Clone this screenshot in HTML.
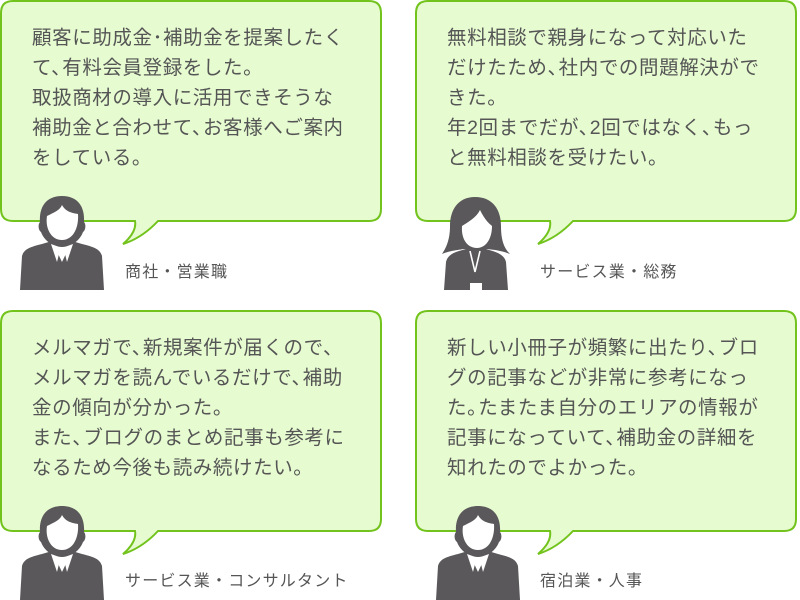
<!DOCTYPE html>
<html><head><meta charset="utf-8"><style>
body{margin:0;width:800px;height:600px;background:#fff;overflow:hidden;position:relative;font-family:"Liberation Sans","Noto Sans CJK JP",sans-serif;}
svg{position:absolute;left:0;top:0}
.t{position:absolute;font-size:19.5px;line-height:30px;color:#555;white-space:nowrap;letter-spacing:0.6px}
.t i{font-style:normal;margin-right:-9px}
.l{position:absolute;font-size:16px;color:#555;white-space:nowrap;letter-spacing:1.2px}
</style></head><body>
<svg width="800" height="600" viewBox="0 0 800 600">
<defs>
<g id="bub">
<path d="M13,1 H369 Q381,1 381,13 V209 Q381,221 369,221 H158 Q142,238 123,244 Q137,232 135,221 H13 Q1,221 1,209 V13 Q1,1 13,1 Z" fill="#e6fbd0" stroke="#72c31c" stroke-width="2"/>
</g>
<g id="man" fill="#5a585a">
<path d="M62,196 C46,196 39,207 40,222 C38,224 38,230 41,232 C44,240 52,247 62,247 C72,247 80,240 83,232 C86,230 86,224 84,222 C85,207 78,196 62,196 Z"/>
<path d="M20,290 L22,256 C24,249 30,247 42,244 L52,241 L62,262 L72,241 L82,244 C94,247 100,249 102,256 L104,290 Z"/>
<path d="M47,216 C55,212 60,210 62,205 C66,212 72,213 78,214 C79,228 73,240 62,240 C51,240 45,228 47,216Z" fill="#fff"/>
<path d="M51,244 L57,262 L60,250 L62,252 L64,250 L67,262 L73,244 L62,248Z" fill="#fff"/>
</g>
<g id="woman" fill="#5a585a">
<path d="M475,197 C458,197 450,210 450,226 C450,240 446,248 442,254 C452,250 460,250 463,249 L488,249 C493,250 500,250 510,254 C504,248 501,240 501,226 C501,210 493,197 475,197Z"/>
<path d="M444,290 L446,262 C448,254 455,252 466,249 L472,247 L480,247 L486,249 C496,252 504,254 506,262 L508,290 Z"/>
<path d="M462,226 C468,222 476,218 480,210 C486,222 490,224 492,226 C492,240 485,248 477,248 C468,248 461,240 462,226Z" fill="#fff"/>
<path d="M470,251 L475,272 L480,251" stroke="#fff" stroke-width="1.6" fill="none"/>
<rect x="470" y="283" width="12" height="8" fill="#fff"/>
</g>
</defs>
<use href="#bub"/>
<use href="#bub" x="415"/>
<use href="#bub" y="310"/>
<use href="#bub" x="415" y="310"/>
<use href="#man"/>
<use href="#woman"/>
<use href="#man" y="310"/>
<use href="#man" x="416" y="310"/>
</svg>
<div class="t" style="left:32px;top:23px">顧客に助成金･補助金を提案したく<br>て<i>、</i>有料会員登録をした。<br>取扱商材の導入に活用できそうな<br>補助金と合わせて<i>、</i>お客様へご案内<br>をしている。</div>
<div class="t" style="left:447px;top:23px">無料相談で親身になって対応いた<br>だけたため<i>、</i>社内での問題解決がで<br>きた。<br>年2回までだが<i>、</i>2回ではなく<i>、</i>もっ<br>と無料相談を受けたい。</div>
<div class="t" style="left:32px;top:333px">メルマガで<i>、</i>新規案件が届くので<i>、</i><br>メルマガを読んでいるだけで<i>、</i>補助<br>金の傾向が分かった。<br>また<i>、</i>ブログのまとめ記事も参考に<br>なるため今後も読み続けたい。</div>
<div class="t" style="left:447px;top:333px">新しい小冊子が頻繁に出たり<i>、</i>ブロ<br>グの記事などが非常に参考になっ<br>た<i>。</i>たまたま自分のエリアの情報が<br>記事になっていて<i>、</i>補助金の詳細を<br>知れたのでよかった。</div>
<div class="l" style="left:125px;top:258px">商社・営業職</div>
<div class="l" style="left:540px;top:258px">サービス業・総務</div>
<div class="l" style="left:125px;top:567px">サービス業・コンサルタント</div>
<div class="l" style="left:540px;top:567px">宿泊業・人事</div>
</body></html>
